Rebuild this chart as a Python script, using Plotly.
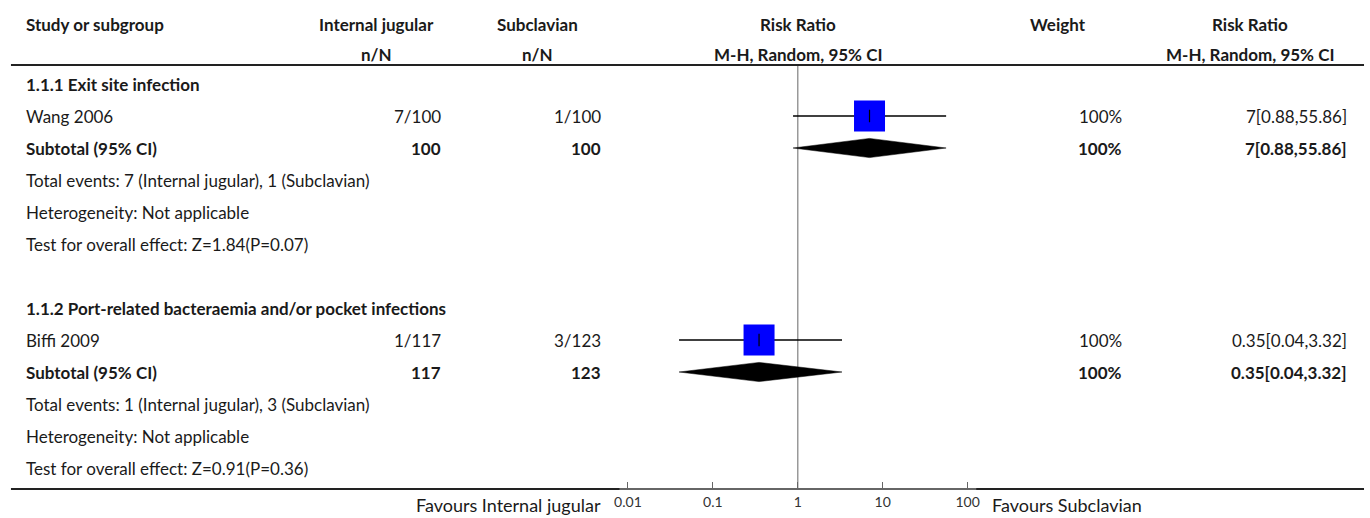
import plotly.graph_objects as go

# ---------------- data ----------------
groups = ["1.1.1 Exit site infection",
          "1.1.2 Port-related bacteraemia and/or pocket infections"]
studies = ["Wang 2006", "Biffi 2009"]
ij_events = [7, 1]
ij_total = [100, 117]
sc_events = [1, 3]
sc_total = [100, 123]
rr = [7, 0.35]
ci_low = [0.88, 0.04]
ci_high = [55.86, 3.32]
weights = [100, 100]
z_values = [1.84, 0.91]
p_values = [0.07, 0.36]
tick_vals = [0.01, 0.1, 1, 10, 100]
tick_text = ["0.01", "0.1", "1", "10", "100"]
label_left = "Favours Internal jugular"
label_right = "Favours Subclavian"

# ---------------- layout helpers ----------------
W, H = 1370, 518
ROW0_PX, ROW_PX = 84, 32          # pixel y of row 0 and row pitch


def px_to_row(py):
    return (py - ROW0_PX) / ROW_PX


def px(xp):
    return xp / W


FONT = "Lato"
FS = 17
TXT = "#1a1a1a"

fig = go.Figure()
ann = []


def text(x, row, s, anchor="left", bold=False, size=FS, color=TXT):
    ann.append(dict(x=px(x), y=row, xref="paper", yref="y",
                    text=f"<b>{s}</b>" if bold else s, showarrow=False,
                    xanchor=anchor, yanchor="middle", borderpad=0, borderwidth=0,
                    font=dict(family=FONT, size=size, color=color)))


LX = 21            # left text column
IJ_R, SC_R = 439, 600
WT_R, RR_R = 1124, 1351

# header
h1, h2 = px_to_row(24), px_to_row(54)
text(LX, h1, "Study or subgroup", bold=True)
text(374, h1, "Internal jugular", "center", True)
text(374, h2, "n/N", "center", True)
text(536, h1, "Subclavian", "center", True)
text(536, h2, "n/N", "center", True)
text(798, h1, "Risk Ratio", "center", True)
text(798, h2, "M-H, Random, 95% CI", "center", True)
text(1060, h1, "Weight", "center", True)
text(1253, h1, "Risk Ratio", "center", True)
text(1253, h2, "M-H, Random, 95% CI", "center", True)

for g, name in enumerate(groups):
    base = g * 7
    text(LX, base, name, bold=True)
    r_s, r_t = base + 1, base + 2
    text(LX, r_s, studies[g])
    text(IJ_R, r_s, f"{ij_events[g]}/{ij_total[g]}", "right")
    text(SC_R, r_s, f"{sc_events[g]}/{sc_total[g]}", "right")
    text(WT_R, r_s, f"{weights[g]}%", "right")
    rr_txt = f"{rr[g]:g}[{ci_low[g]:g},{ci_high[g]:g}]"
    text(RR_R, r_s, rr_txt, "right")
    text(LX, r_t, "Subtotal (95% CI)", bold=True)
    text(IJ_R, r_t, f"{ij_total[g]}", "right", True)
    text(SC_R, r_t, f"{sc_total[g]}", "right", True)
    text(WT_R, r_t, f"{weights[g]}%", "right", True)
    text(RR_R, r_t, rr_txt, "right", True)
    text(LX, base + 3, f"Total events: {ij_events[g]} (Internal jugular), "
                       f"{sc_events[g]} (Subclavian)")
    text(LX, base + 4, "Heterogeneity: Not applicable")
    text(LX, base + 5, f"Test for overall effect: Z={z_values[g]:g}(P={p_values[g]:g})")

    # CI line
    fig.add_trace(go.Scatter(x=[ci_low[g], ci_high[g]], y=[r_s, r_s], mode="lines",
                             line=dict(color="#000", width=1.5), hoverinfo="skip",
                             showlegend=False))
    # square
    fig.add_trace(go.Scatter(x=[rr[g]], y=[r_s], mode="markers",
                             marker=dict(symbol="square", size=31, color="#0000FF",
                                         line=dict(width=0)),
                             hoverinfo="skip", showlegend=False))
    # point tick
    fig.add_trace(go.Scatter(x=[rr[g]], y=[r_s], mode="markers",
                             marker=dict(symbol="line-ns", size=9,
                                         line=dict(color="#000", width=1.2)),
                             hoverinfo="skip", showlegend=False))
    # diamond
    hh = 0.30
    fig.add_trace(go.Scatter(x=[ci_low[g], rr[g], ci_high[g], rr[g], ci_low[g]],
                             y=[r_t, r_t - hh, r_t, r_t + hh, r_t],
                             mode="lines", fill="toself", fillcolor="#000",
                             line=dict(color="#000", width=0.5),
                             hoverinfo="skip", showlegend=False))

# bottom labels
axis_px = 489
text(600, px_to_row(505), label_left, "right", size=18)
text(994, px_to_row(505), label_right, "left", size=18)

plot_l, plot_r = 618.5, 977.5
shapes = [
    # header separator
    dict(type="line", xref="paper", yref="y", x0=px(6), x1=px(1368),
         y0=px_to_row(65), y1=px_to_row(65), line=dict(color="#222", width=2)),
    # bottom rule left and right of axis
    dict(type="line", xref="paper", yref="y", x0=px(6), x1=px(plot_l),
         y0=px_to_row(axis_px), y1=px_to_row(axis_px), line=dict(color="#222", width=2)),
    dict(type="line", xref="paper", yref="y", x0=px(plot_r), x1=px(1368),
         y0=px_to_row(axis_px), y1=px_to_row(axis_px), line=dict(color="#222", width=2)),
    # null line at RR = 1
    dict(type="line", xref="x", yref="y", x0=1, x1=1,
         y0=px_to_row(66), y1=px_to_row(axis_px), line=dict(color="#999", width=1.5),
         layer="below"),
]

fig.update_layout(
    width=W, height=H, margin=dict(l=0, r=0, t=0, b=0),
    paper_bgcolor="white", plot_bgcolor="white",
    annotations=ann, shapes=shapes, showlegend=False,
    xaxis=dict(type="log", range=[-2.1, 2.1], domain=[px(plot_l), px(plot_r)],
               anchor="free", position=(H - axis_px) / H,
               showline=True, linecolor="#666", linewidth=2,
               ticks="inside", ticklen=6, tickcolor="#666", tickwidth=1,
               tickvals=tick_vals, ticktext=tick_text, showgrid=False, zeroline=False,
               tickfont=dict(family=FONT, size=14, color="#333")),
    yaxis=dict(range=[px_to_row(H), px_to_row(0)], domain=[0, 1], visible=False,
               showgrid=False, zeroline=False),
)

fig.write_html("out.html", config={"displayModeBar": False},
               post_script="document.body.style.margin='0';document.body.style.overflow='hidden';")
